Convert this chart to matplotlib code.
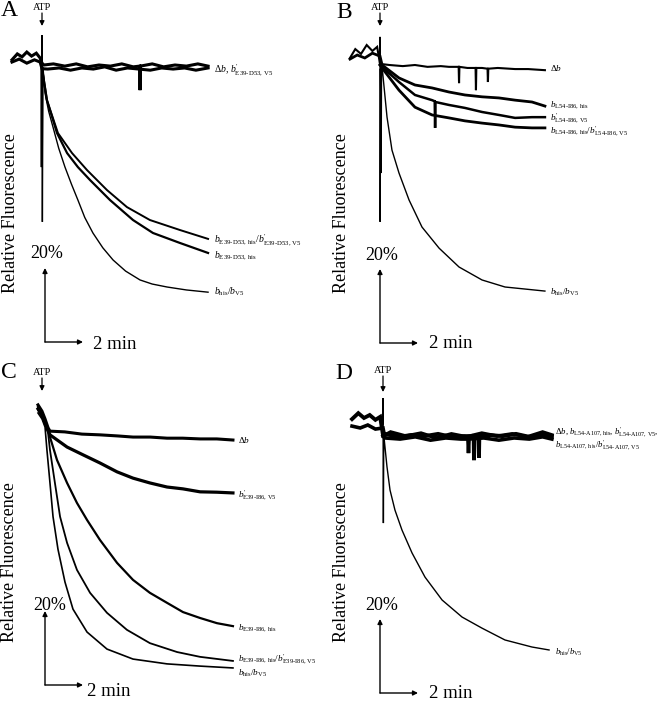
import matplotlib.pyplot as plt

plt.rcParams['font.family'] = ['Liberation Serif', 'DejaVu Serif']
plt.rcParams['mathtext.fontset'] = 'custom'
plt.rcParams['mathtext.rm'] = 'Liberation Serif'
plt.rcParams['mathtext.it'] = 'Liberation Serif:italic'

# ---- data: time after ATP (min), relative fluorescence (%) ----
# panel A
a_db_t = [-1.58, -1.3, -1.05, -0.8, -0.55, -0.3, -0.1, 0.0, 0.1, 0.6, 1.2, 1.8, 2.4, 3.0, 3.6,
          4.2, 4.8, 5.14, 5.16, 5.18, 5.8, 6.4, 7.0, 7.6, 8.2, 8.74]
a_db_f = [101.4, 103.0, 102.2, 103.5, 102.4, 103.2, 101.9, 100.5, 100.0, 100.3, 99.7, 100.3, 99.5,
          100.0, 99.7, 100.3, 99.5, 99.7, 93.2, 99.7, 100.3, 99.5, 100.0, 99.7, 100.3, 99.7]
a_bp_t = [-1.58, -1.2, -0.8, -0.4, -0.1, 0.0, 0.3, 0.9, 1.5, 2.1, 2.7, 3.3, 3.9, 4.5, 5.1, 5.7,
          6.3, 6.9, 7.5, 8.1, 8.74]
a_bp_f = [100.8, 101.6, 100.5, 101.4, 100.8, 99.0, 98.9, 99.2, 98.6, 99.2, 98.9, 99.5, 98.6, 99.2,
          98.9, 98.6, 99.2, 98.9, 99.2, 98.6, 99.2]
a_hb_t = [0.0, 0.26, 0.84, 1.58, 2.37, 3.42, 4.47, 5.68, 7.26, 8.74]
a_hb_f = [99.5, 90.5, 81.6, 76.2, 71.6, 66.2, 61.6, 58.1, 55.4, 53.0]
a_his_t = [-0.03, -0.01, 0.01, 0.03, 0.26, 0.79, 1.32, 1.89, 2.53, 3.58, 4.79, 5.84, 7.26, 8.74]
a_his_f = [100.5, 72.4, 99.0, 98.0, 90.5, 81.6, 76.2, 72.4, 68.9, 63.5, 58.1, 54.6, 51.9, 49.2]
a_wt_t = [-0.02, 0.0, 0.02, 0.05, 0.16, 0.35, 0.58, 0.88, 1.21, 1.55, 1.89, 2.25, 2.68, 3.2, 3.74,
          4.4, 5.16, 5.8, 6.58, 7.6, 8.74]
a_wt_f = [100.5, 108.1, 57.6, 99.5, 92.4, 87.5, 83.2, 77.5, 72.4, 67.8, 63.5, 58.8, 54.6, 50.6,
          47.3, 44.3, 41.9, 40.8, 40.0, 39.2, 38.6]

# panel B
b_db_t = [-1.58, -1.3, -1.0, -0.7, -0.4, -0.15, 0.0, 0.5, 1.2, 1.84, 2.5, 3.2, 3.63, 4.14, 4.16,
          4.18, 4.6, 5.03, 5.05, 5.07, 5.37, 5.66, 5.68, 5.7, 6.2, 7.11, 7.8, 8.68]
b_db_f = [101.9, 104.3, 103.0, 105.4, 103.8, 104.9, 100.3, 100.0, 99.7, 100.0, 99.5, 99.7, 99.5,
          99.5, 95.1, 99.5, 99.2, 99.2, 93.2, 99.2, 99.2, 99.0, 95.4, 99.0, 99.2, 98.9, 98.9, 98.6]
b_his_t = [-1.58, -1.2, -0.8, -0.4, 0.0, 0.11, 1.0, 1.84, 2.74, 3.63, 4.47, 5.37, 6.26, 7.11, 8.0,
           8.68]
b_his_f = [101.6, 102.7, 101.9, 103.2, 102.4, 100.0, 96.5, 94.6, 93.8, 92.7, 91.9, 91.4, 91.1,
           90.5, 90.0, 88.9]
b_bp_t = [0.0, 0.11, 1.0, 1.84, 2.74, 2.88, 2.9, 2.92, 3.63, 4.47, 5.37, 6.26, 7.11, 8.0, 8.68]
b_bp_f = [100.0, 99.5, 95.4, 91.9, 90.5, 90.2, 83.0, 90.0, 89.2, 88.4, 87.3, 86.5, 85.7, 85.9, 85.9]
b_hb_t = [0.0, 0.11, 1.0, 1.84, 2.74, 3.63, 4.47, 5.37, 6.26, 7.11, 8.0, 8.68]
b_hb_f = [100.0, 99.2, 93.2, 88.6, 86.5, 85.7, 84.9, 84.3, 83.8, 83.2, 83.0, 83.0]
b_wt_t = [-0.02, 0.0, 0.01, 0.03, 0.06, 0.08, 0.11, 0.37, 0.63, 1.0, 1.53, 2.21, 3.11, 4.16, 5.37,
          6.58, 8.68]
b_wt_f = [100.5, 107.6, 57.6, 99.0, 70.8, 99.5, 99.5, 85.9, 77.0, 70.8, 63.5, 56.2, 50.5, 45.4,
          41.9, 40.0, 38.9]

# panel C
c_db_t = [-0.21, 0.0, 0.16, 0.32, 0.42, 1.2, 2.1, 3.05, 4.0, 4.79, 5.7, 6.58, 7.4, 8.32, 9.2, 10.05]
c_db_f = [107.6, 105.9, 103.8, 101.4, 100.5, 100.3, 99.7, 99.5, 99.2, 98.9, 98.9, 98.6, 98.6,
          98.4, 98.4, 98.1]
c_bp_t = [-0.21, 0.0, 0.16, 0.32, 0.42, 1.32, 2.16, 3.05, 3.95, 4.79, 5.68, 6.58, 7.42, 8.32, 9.2,
          10.05]
c_bp_f = [106.5, 104.9, 102.7, 100.8, 99.5, 96.2, 94.1, 91.9, 89.5, 87.8, 86.5, 85.4, 84.9, 84.1,
          84.0, 83.8]
c_his_t = [-0.21, 0.0, 0.16, 0.32, 0.42, 0.79, 1.32, 1.84, 2.37, 3.05, 3.95, 4.79, 5.68, 6.58,
           7.42, 8.32, 9.21, 10.05]
c_his_f = [107.0, 105.1, 103.0, 100.5, 98.9, 92.7, 86.5, 81.1, 76.5, 71.1, 64.9, 60.3, 56.8, 54.1,
           51.6, 50.0, 48.6, 47.8]
c_hb_t = [-0.21, 0.0, 0.16, 0.32, 0.42, 0.68, 0.95, 1.32, 1.84, 2.53, 3.42, 4.47, 5.68, 7.11,
          8.32, 10.05]
c_hb_f = [106.2, 104.3, 102.2, 100.0, 95.4, 86.5, 77.4, 70.3, 63.0, 56.8, 51.4, 46.8, 43.2, 40.8,
          39.5, 38.4]
c_wt_t = [-0.21, 0.0, 0.16, 0.26, 0.42, 0.58, 0.84, 1.21, 1.63, 2.37, 3.42, 4.79, 6.58, 8.32, 10.05]
c_wt_f = [105.4, 103.8, 101.6, 95.4, 86.5, 77.4, 68.6, 59.7, 52.4, 46.2, 41.6, 38.9, 37.6, 37.0,
          36.5]

# panel D
d_db_t = [-1.63, -1.3, -1.0, -0.7, -0.4, -0.15, 0.0, 0.1, 0.8, 1.5, 2.2, 2.9, 3.6, 4.3, 4.77, 4.79,
          4.81, 5.03, 5.05, 5.07, 5.6, 6.3, 7.0, 7.7, 8.3, 8.89]
d_db_f = [104.3, 105.9, 104.6, 105.4, 104.1, 104.9, 100.0, 100.3, 99.5, 100.0, 99.7, 100.3, 99.5,
          99.7, 99.7, 93.2, 99.7, 99.5, 93.8, 99.5, 100.0, 99.7, 100.3, 99.5, 100.0, 99.7]
d_his_t = [-1.63, -1.2, -0.8, -0.4, 0.0, 0.1, 0.9, 1.7, 2.5, 3.3, 4.1, 4.47, 4.5, 4.53, 5.3, 6.1,
           6.9, 7.7, 8.4, 8.89]
d_his_f = [102.4, 101.9, 102.7, 101.6, 101.9, 99.2, 98.9, 99.5, 98.6, 99.2, 98.9, 98.9, 95.1, 98.9,
           99.2, 98.6, 99.2, 98.9, 99.5, 98.9]
d_bp_t = [0.0, 0.4, 1.2, 2.0, 2.8, 3.6, 4.4, 5.2, 6.0, 6.8, 7.6, 8.4, 8.89]
d_bp_f = [99.7, 100.8, 99.7, 100.5, 99.2, 100.3, 99.5, 100.5, 99.7, 100.3, 99.5, 100.8, 100.0]
d_wt_t = [-0.02, 0.0, 0.02, 0.04, 0.05, 0.21, 0.37, 0.63, 1.0, 1.53, 2.21, 3.11, 4.16, 5.21, 6.42,
          7.84, 8.74]
d_wt_f = [103.0, 110.0, 76.2, 99.5, 99.5, 91.4, 85.1, 79.7, 74.3, 68.1, 61.6, 55.4, 50.8, 47.8,
          44.6, 42.7, 41.9]

# ---- layout (pixels) ----
W, H = 664, 701
PX_MIN = 19.0   # px per minute
PX_PCT = 3.7    # px per % fluorescence

# left, top, width, height, ATP x, baseline y  (panel pixels)
panels = {
    'A': (0, 0, 332, 350, 42, 65),
    'B': (332, 0, 332, 350, 48, 65),
    'C': (0, 350, 332, 351, 42, 83),
    'D': (332, 350, 332, 351, 51, 85),
}

traces = {
    'A': [(a_db_t, a_db_f, 2.2), (a_bp_t, a_bp_f, 2.2), (a_hb_t, a_hb_f, 1.4),
          (a_his_t, a_his_f, 1.6), (a_wt_t, a_wt_f, 1.0)],
    'B': [(b_db_t, b_db_f, 1.5), (b_his_t, b_his_f, 2.0), (b_bp_t, b_bp_f, 1.8),
          (b_hb_t, b_hb_f, 2.0), (b_wt_t, b_wt_f, 1.0)],
    'C': [(c_db_t, c_db_f, 2.2), (c_bp_t, c_bp_f, 2.3), (c_his_t, c_his_f, 1.6),
          (c_hb_t, c_hb_f, 1.3), (c_wt_t, c_wt_f, 1.2)],
    'D': [(d_db_t, d_db_f, 2.8), (d_his_t, d_his_f, 2.6), (d_bp_t, d_bp_f, 2.6),
          (d_wt_t, d_wt_f, 1.0)],
}

wt = r"$b_{\text{his}}/b_{\text{V5}}$"
labels = {
    'A': [(r"$\Delta b$, $b^{\prime}_{\text{E39-D53, V5}}$", 214, 70),
          (r"$b_{\text{E39-D53, his}}/b^{\prime}_{\text{E39-D53, V5}}$", 214, 240),
          (r"$b_{\text{E39-D53, his}}$", 214, 256),
          (wt, 214, 292)],
    'B': [(r"$\Delta b$", 218, 68),
          (r"$b_{\text{L54-I86, his}}$", 218, 105),
          (r"$b^{\prime}_{\text{L54-I86, V5}}$", 218, 118),
          (r"$b_{\text{L54-I86, his}}/b^{\prime}_{\text{L54-I86, V5}}$", 218, 131),
          (wt, 218, 292)],
    'C': [(r"$\Delta b$", 238, 90),
          (r"$b^{\prime}_{\text{E39-I86, V5}}$", 238, 145),
          (r"$b_{\text{E39-I86, his}}$", 238, 278),
          (r"$b_{\text{E39-I86, his}}/b^{\prime}_{\text{E39-I86, V5}}$", 238, 309),
          (wt, 238, 323)],
    'D': [(r"$\Delta b$, $b_{\text{L54-A107, his}}$, $b^{\prime}_{\text{L54-A107, V5}}$,", 223, 82),
          (r"$b_{\text{L54-A107, his}}/b^{\prime}_{\text{L54-A107, V5}}$", 223, 95),
          (wt, 223, 302)],
}
label_size = {'A': 7, 'B': 6.7, 'C': 6.7, 'D': 6.3}

# letter xy, ATP text y, arrow y0, y1, scale-bar corner xy, "20%" xy, "2 min" xy, ylabel xy
decor = {
    'A': ((9, 11), 7, 13, 26, (45, 342), (47, 254), (93, 344), (10, 213)),
    'B': ((12, 12), 7, 13, 26, (48, 343), (50, 255), (97, 343), (10, 213)),
    'C': ((9, 22), 22, 28, 41, (45, 335), (50, 255), (87, 341), (9, 212)),
    'D': ((12, 23), 20, 26, 42, (48, 343), (50, 255), (97, 343), (10, 212)),
}

fig = plt.figure(figsize=(W / 100, H / 100), dpi=100)

for name, (left, top, w, h, atp, base) in panels.items():
    ax = fig.add_axes([left / W, 1 - (top + h) / H, w / W, h / H])
    ax.set_xlim(-atp / PX_MIN, (w - atp) / PX_MIN)
    ax.set_ylim(100 - (h - base) / PX_PCT, 100 + base / PX_PCT)
    ax.axis('off')

    def at(x, y):
        return (x - atp) / PX_MIN, 100 - (y - base) / PX_PCT

    for t, f, lw in traces[name]:
        ax.plot(t, f, color='black', lw=lw, solid_joinstyle='miter')

    for txt, x, y in labels[name]:
        ax.text(*at(x, y), txt, fontsize=label_size[name], ha='left', va='center')

    letter, atp_y, ay0, ay1, corner, pct_xy, min_xy, ylab_xy = decor[name]
    ax.text(*at(*letter), name, fontsize=17, ha='center', va='center')
    ax.text(*at(atp, atp_y), 'ATP', fontsize=7.5, ha='center', va='center')
    ax.annotate('', xy=at(atp, ay1), xytext=at(atp, ay0),
                arrowprops=dict(arrowstyle='-|>', lw=0.9, color='black',
                                mutation_scale=7, shrinkA=0, shrinkB=0))

    t0, f0 = at(*corner)
    bar = dict(arrowstyle='-|>', lw=1.0, color='black', mutation_scale=7,
               shrinkA=0, shrinkB=0)
    ax.annotate('', xy=(t0, f0 + 20), xytext=(t0, f0), arrowprops=bar)
    ax.annotate('', xy=(t0 + 2, f0), xytext=(t0, f0), arrowprops=bar)
    ax.text(*at(*pct_xy), '20%', fontsize=13, ha='center', va='center')
    ax.text(*at(*min_xy), '2 min', fontsize=13.5, ha='left', va='center')
    ax.text(*at(*ylab_xy), 'Relative Fluorescence', fontsize=13, rotation=90,
            ha='center', va='center')

fig.savefig('out.png', dpi=100)
